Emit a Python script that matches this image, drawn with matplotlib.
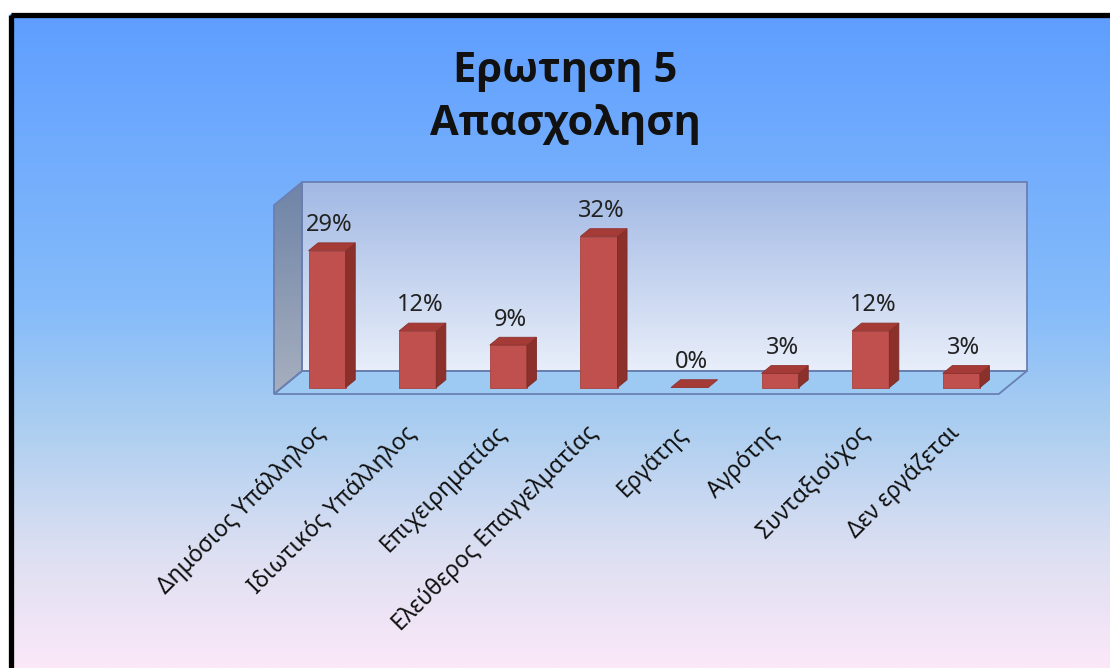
# Question 5 (employment) - 3D-style column chart, Excel look.

import numpy as np
import matplotlib
matplotlib.use("Agg")
import matplotlib.pyplot as plt
from matplotlib.patches import Polygon, Rectangle
from matplotlib.colors import LinearSegmentedColormap


categories = ["Δημόσιος Υπάλληλος", "Ιδιωτικός Υπάλληλος", "Επιχειρηματίας",
              "Ελεύθερος Επαγγελματίας", "Εργάτης", "Αγρότης",
              "Συνταξιούχος", "Δεν εργάζεται"]
percent = [29, 12, 9, 32, 0, 3, 12, 3]
value_labels = ["29%", "12%", "9%", "32%", "0%", "3%", "12%", "3%"]
title = "Ερωτηση 5\nΑπασχοληση"

plt.rcParams["font.family"] = ["Noto Sans", "DejaVu Sans"]

W, H = 1110, 668
fig = plt.figure(figsize=(W / 100, H / 100), dpi=100)
fig.patch.set_facecolor("white")

# background gradient + black frame, in pixel coordinates
bg = fig.add_axes([0, 0, 1, 1])
bg.set_xlim(0, W)
bg.set_ylim(H, 0)
bg.axis("off")
bg_cmap = LinearSegmentedColormap.from_list(
    "bg", [(0, "#5f9eff"), (0.45, "#86bcfa"), (0.62, "#a9cdf0"),
           (0.82, "#dcdff2"), (1, "#fbe8f8")])
bg.imshow(np.linspace(0, 1, 256).reshape(-1, 1), cmap=bg_cmap, aspect="auto",
          extent=(10, W, H, 14), zorder=0)
bg.add_patch(Rectangle((10.5, 14.5), W + 20, H + 20, fill=False,
                       edgecolor="black", lw=3.8, zorder=2))
bg.text(565, 98, title, ha="center", va="center", fontsize=30,
        fontweight="bold", family=["Open Sans", "DejaVu Sans"],
        color="#111111", linespacing=1.4)

# chart axes: x in category units, y in percent
ax = fig.add_axes([0, 0, 1, 1])
ax.patch.set_alpha(0)
ax.axis("off")

cat_w = 90.6        # pixels per category
px_per_pct = 4.72   # pixels per percent
left_px, floor_px = 274, 394
DX, DY = 28 / cat_w, 23 / px_per_pct   # full depth offset
VMAX = 40
n = len(categories)


def P(x, v, d):
    return (x + d * DX, v + d * DY)


def grad_poly(pts, c_top, c_bottom, z):
    poly = Polygon(pts, closed=True, facecolor="none", edgecolor="none")
    ax.add_patch(poly)
    xs, ys = zip(*pts)
    cmap = LinearSegmentedColormap.from_list("", [c_bottom, c_top])
    im = ax.imshow(np.linspace(0, 1, 64).reshape(-1, 1), cmap=cmap,
                   origin="lower", aspect="auto",
                   extent=(min(xs), max(xs), min(ys), max(ys)), zorder=z)
    im.set_clip_path(poly)


edge = "#6a7fb2"
x_lo, x_hi = -0.5, n - 0.5

# walls and floor
back = [P(x_lo, 0, 1), P(x_hi, 0, 1), P(x_hi, VMAX, 1), P(x_lo, VMAX, 1)]
side = [P(x_lo, 0, 0), P(x_lo, 0, 1), P(x_lo, VMAX, 1), P(x_lo, VMAX, 0)]
floor = [P(x_lo, 0, 0), P(x_hi, 0, 0), P(x_hi, 0, 1), P(x_lo, 0, 1)]
grad_poly(back, "#a2b9e4", "#e8eefa", 1)
grad_poly(side, "#6f84a8", "#a6afbe", 1)
ax.add_patch(Polygon(floor, closed=True, facecolor="#9ccaf3", edgecolor="none", zorder=1))
for pts in (back, side, floor):
    ax.add_patch(Polygon(pts, closed=True, fill=False, edgecolor=edge, lw=1.3, zorder=2))

# bars
bw = 0.41
d0, d1 = 0.28, 0.62
for i, v in enumerate(percent):
    x0, x1 = i - bw / 2, i + bw / 2
    top = [P(x0, v, d0), P(x1, v, d0), P(x1, v, d1), P(x0, v, d1)]
    if v > 0:
        front = [P(x0, 0, d0), P(x1, 0, d0), P(x1, v, d0), P(x0, v, d0)]
        right = [P(x1, 0, d0), P(x1, 0, d1), P(x1, v, d1), P(x1, v, d0)]
        ax.add_patch(Polygon(front, closed=True, facecolor="#c0504d",
                             edgecolor="#a8423f", lw=0.6, zorder=3))
        ax.add_patch(Polygon(right, closed=True, facecolor="#8c302c",
                             edgecolor="#7a2a27", lw=0.6, zorder=3))
    ax.add_patch(Polygon(top, closed=True, facecolor="#a53b37",
                         edgecolor="#8e322f", lw=0.6, zorder=3))
    lx, ly = P(i, v, d0)
    ax.text(lx + 2 / cat_w, v + d1 * DY + 1.2, value_labels[i], ha="center",
            va="bottom", fontsize=17, color="#222222", zorder=4)
    cx, cy = P(i, 0, d0)
    ax.text(cx - 5 / cat_w, (floor_px - 430) / px_per_pct, categories[i],
            rotation=45, rotation_mode="anchor", ha="right", va="center",
            fontsize=16.5, color="#111111", zorder=4)

ax.set_xlim(-0.5 - left_px / cat_w, -0.5 + (W - left_px) / cat_w)
ax.set_ylim(-(H - floor_px) / px_per_pct, floor_px / px_per_pct)

fig.savefig("out.png", dpi=100)
